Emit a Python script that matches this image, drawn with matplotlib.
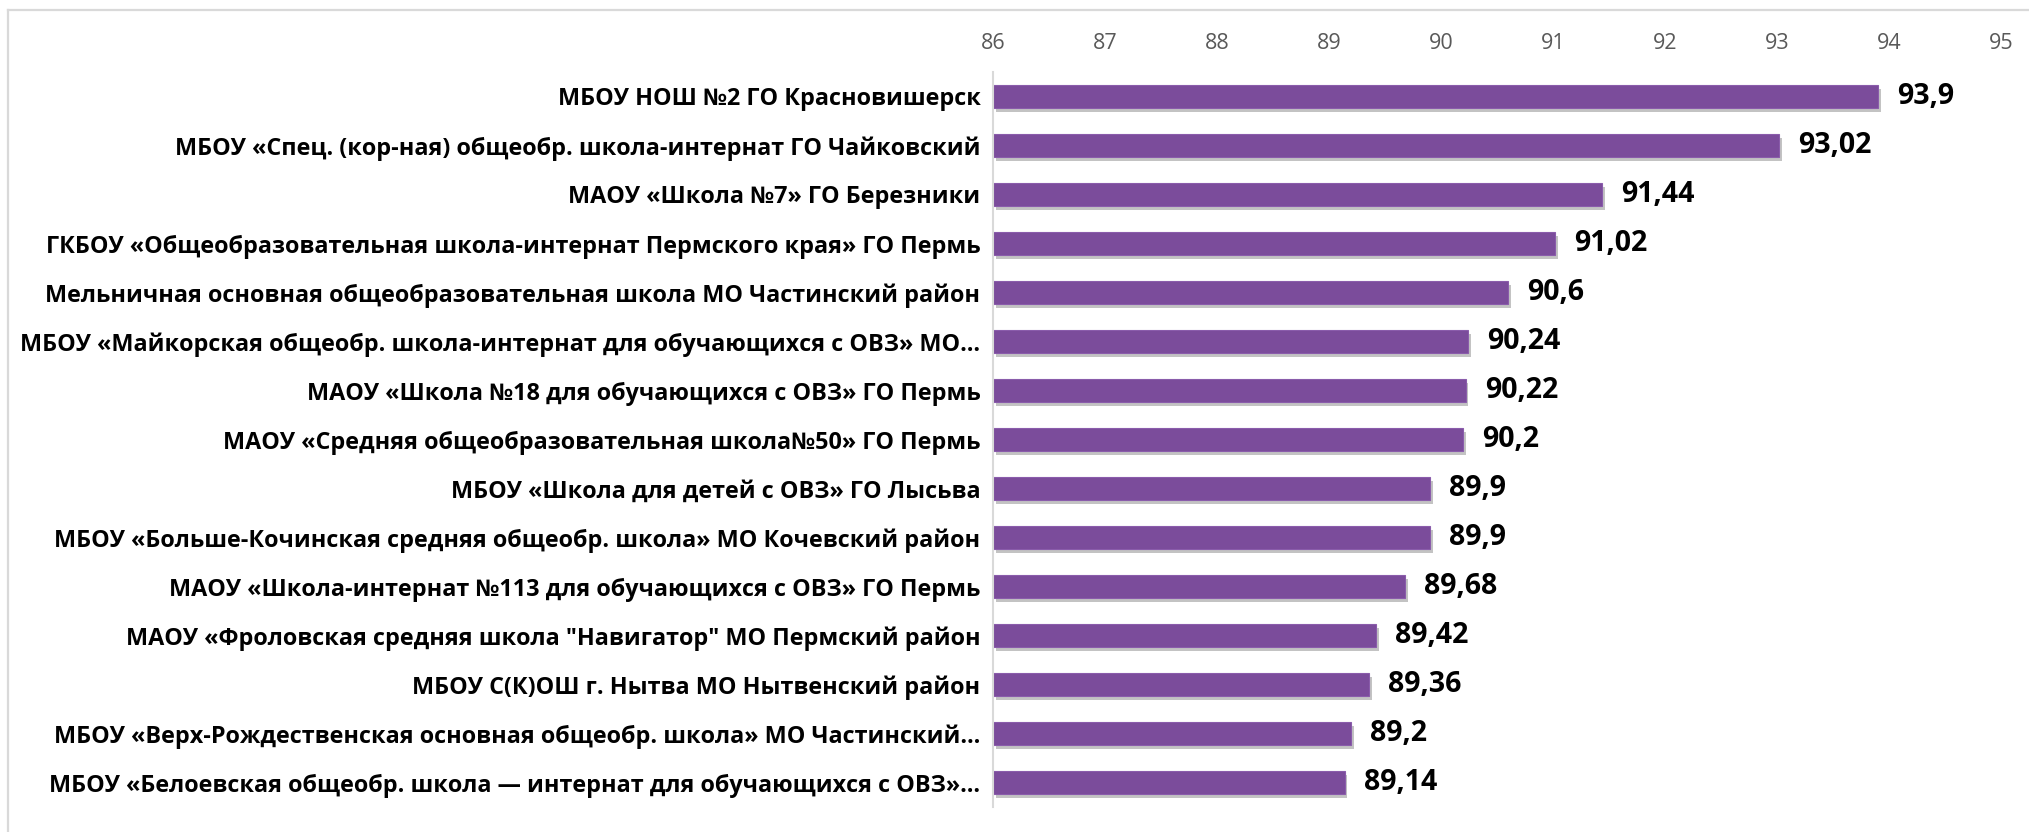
import matplotlib
matplotlib.use("Agg")
import matplotlib.pyplot as plt
import matplotlib.patheffects as pe
from matplotlib import font_manager
from matplotlib.lines import Line2D

schools = [
    "МБОУ НОШ №2 ГО Красновишерск",
    "МБОУ «Спец. (кор-ная) общеобр. школа-интернат ГО Чайковский",
    "МАОУ «Школа №7» ГО Березники",
    "ГКБОУ «Общеобразовательная школа-интернат Пермского края» ГО Пермь",
    "Мельничная основная общеобразовательная школа МО Частинский район",
    "МБОУ «Майкорская общеобр. школа-интернат для обучающихся с ОВЗ» МО…",
    "МАОУ «Школа №18 для обучающихся с ОВЗ» ГО Пермь",
    "МАОУ «Средняя общеобразовательная школа№50» ГО Пермь",
    "МБОУ «Школа для детей с ОВЗ» ГО Лысьва",
    "МБОУ «Больше-Кочинская средняя общеобр. школа» МО Кочевский район",
    "МАОУ «Школа-интернат №113 для обучающихся с ОВЗ» ГО Пермь",
    "МАОУ «Фроловская средняя школа \"Навигатор\" МО Пермский район",
    "МБОУ С(К)ОШ г. Нытва МО Нытвенский район",
    "МБОУ «Верх-Рождественская основная общеобр. школа» МО Частинский…",
    "МБОУ «Белоевская общеобр. школа — интернат для обучающихся с ОВЗ»…",
]
scores = [93.9, 93.02, 91.44, 91.02, 90.6, 90.24, 90.22, 90.2,
          89.9, 89.9, 89.68, 89.42, 89.36, 89.2, 89.14]
ticks = [86, 87, 88, 89, 90, 91, 92, 93, 94, 95]

installed = {f.name for f in font_manager.fontManager.ttflist}
fam = [f for f in ["Liberation Sans Narrow", "Open Sans", "DejaVu Sans"] if f in installed]
plt.rcParams['font.family'] = fam

fig = plt.figure(figsize=(20.29, 8.32), dpi=100)
ax = fig.add_axes([0.4894, 0.030, 0.4968, 0.8835])

y = list(range(len(schools)))
bars = ax.barh(y, [s - 86 for s in scores], left=86, height=0.46,
               color="#7b4c9b", edgecolor="#8a5cab", linewidth=0.8)
for b in bars:
    b.set_path_effects([pe.SimplePatchShadow(offset=(2, -3), shadow_rgbFace="#555555", alpha=0.35),
                        pe.Normal()])

for yi, s in zip(y, scores):
    txt = f"{s:g}".replace(".", ",")
    ax.text(s + 0.17, yi, txt, va="center", ha="left", fontsize=20.5,
            fontweight="bold", color="black")

ax.set_xlim(86, 95)
ax.set_ylim(len(schools) - 0.5, -0.5)
ax.set_yticks(y)
ax.set_yticklabels(schools, fontsize=16.8, fontweight="bold")
ax.set_xticks(ticks)
ax.set_xticklabels([str(t) for t in ticks], fontsize=15.5, color="#595959")
ax.xaxis.tick_top()
ax.tick_params(axis="both", length=0)
ax.tick_params(axis="x", pad=13)
ax.tick_params(axis="y", pad=9)
for side in ["top", "right", "bottom"]:
    ax.spines[side].set_visible(False)
ax.spines["left"].set_color("#d9d9d9")
ax.spines["left"].set_linewidth(1.5)

# chart frame (top and left edges visible)
fig.add_artist(Line2D([8 / 2029, 1], [1 - 10 / 832, 1 - 10 / 832], color="#d9d9d9", lw=1.6))
fig.add_artist(Line2D([8 / 2029, 8 / 2029], [0, 1 - 10 / 832], color="#d9d9d9", lw=1.6))

fig.savefig("out.png", dpi=100)
